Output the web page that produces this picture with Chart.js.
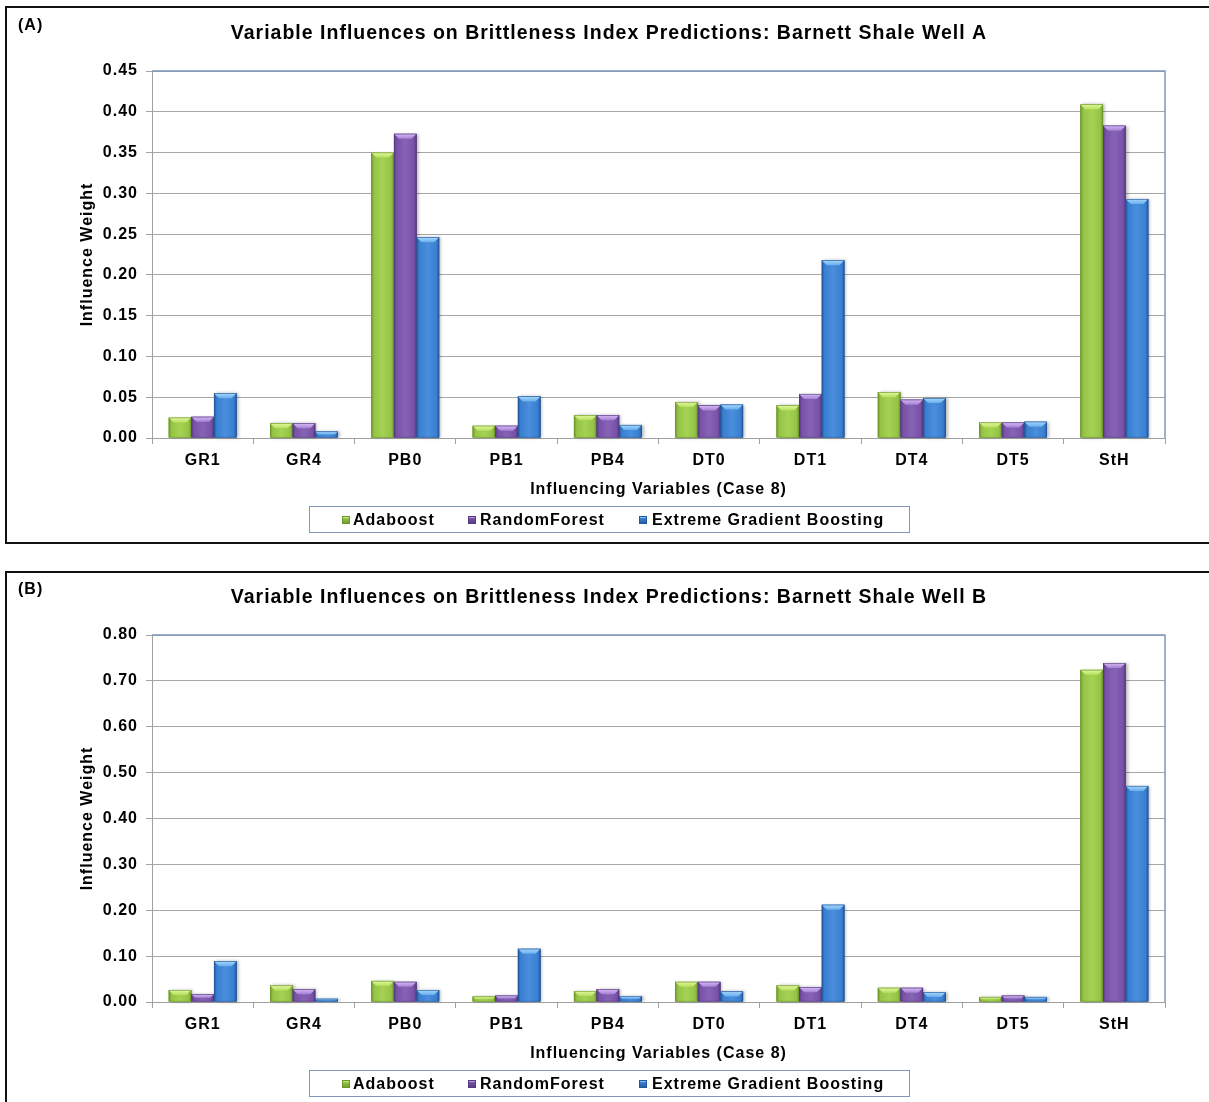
<!DOCTYPE html>
<html>
<head>
<meta charset="utf-8">
<script src="https://cdn.jsdelivr.net/npm/chart.js@4.4.1/dist/chart.umd.min.js"></script>
<style>
  html, body { margin: 0; padding: 0; background: #fff; overflow: hidden; }
  body { width: 1209px; height: 1102px; position: relative; font-family: 'Liberation Sans', Arial, sans-serif; }
  canvas { position: absolute; left: 0; }
  .frame { position: absolute; left: 5px; width: 1220px; border: 2px solid #111; pointer-events: none; }
  .tag { position: absolute; left: 18px; font-weight: bold; font-size: 16px; line-height: 16px; letter-spacing: 1px; color: #000; }
  .legend { position: absolute; left: 309px; width: 599px; height: 25px; border: 1px solid #8196b8; background: #fff; }
  .legend .sw { position: absolute; width: 8px; height: 8px; top: 9px; }
  .legend .lb { position: absolute; top: 4px; font-weight: bold; font-size: 16px; line-height: 18px; letter-spacing: 1px; color: #000; white-space: nowrap; }
</style>
</head>
<body>
<canvas id="chartA" width="1209" height="545" style="top:0px"></canvas>
<canvas id="chartB" width="1209" height="545" style="top:564px"></canvas>
<div class="frame" style="top:6px;height:534px"></div>
<div class="frame" style="top:571px;height:600px"></div>
<div class="tag" style="top:17px">(A)</div>
<div class="tag" style="top:581px">(B)</div>
<div class="legend" id="legendA" style="top:506px"></div>
<div class="legend" id="legendB" style="top:1070px"></div>
<script>
// Variables on the x axis
const categories = ['GR1', 'GR4', 'PB0', 'PB1', 'PB4', 'DT0', 'DT1', 'DT4', 'DT5', 'StH'];
const seriesNames = ['Adaboost', 'RandomForest', 'Extreme Gradient Boosting'];

// Well A influence weights
const wellA_adaboost     = [0.025, 0.018, 0.350, 0.015, 0.028, 0.044, 0.040, 0.056, 0.019, 0.409];
const wellA_randomForest = [0.026, 0.018, 0.373, 0.015, 0.028, 0.040, 0.054, 0.047, 0.019, 0.383];
const wellA_xgboost      = [0.055, 0.008, 0.246, 0.051, 0.016, 0.041, 0.218, 0.049, 0.020, 0.293];

// Well B influence weights
const wellB_adaboost     = [0.026, 0.036, 0.046, 0.012, 0.024, 0.044, 0.036, 0.031, 0.011, 0.724];
const wellB_randomForest = [0.017, 0.028, 0.044, 0.014, 0.028, 0.044, 0.032, 0.031, 0.014, 0.739];
const wellB_xgboost      = [0.089, 0.007, 0.026, 0.116, 0.013, 0.023, 0.212, 0.021, 0.011, 0.471];

// Y-axis tick values
const ticksA = [0, 0.05, 0.10, 0.15, 0.20, 0.25, 0.30, 0.35, 0.40, 0.45];
const ticksB = [0, 0.10, 0.20, 0.30, 0.40, 0.50, 0.60, 0.70, 0.80];

const titleA = 'Variable Influences on Brittleness Index Predictions: Barnett Shale Well A';
const titleB = 'Variable Influences on Brittleness Index Predictions: Barnett Shale Well B';
const xTitle = 'Influencing Variables (Case 8)';
const yTitle = 'Influence Weight';

// Bevelled bar palettes
const palettes = [
  { edge: '#6c972b', mid: '#95c345', hi: '#a5d252', cap1: '#e2f7a2', cap2: '#b6df5c' },
  { edge: '#553a7e', mid: '#7752a8', hi: '#8763b6', cap1: '#d6bbf4', cap2: '#a680d6' },
  { edge: '#22579a', mid: '#3a7fd0', hi: '#4a8fdd', cap1: '#a8d8fc', cap2: '#68adee' }
];

Chart.defaults.font.family = "'Liberation Sans', Arial, sans-serif";
Chart.defaults.color = '#000';
Chart.defaults.animation = false;

const spacingPlugin = {
  id: 'spacing',
  beforeLayout(chart) { chart.ctx.letterSpacing = '1px'; },
  beforeDraw(chart) { chart.ctx.letterSpacing = '1px'; }
};

// Shades each bar (positions taken from the bar elements) with a bevel look
const bevelPlugin = {
  id: 'bevel',
  afterDatasetsDraw(chart) {
    const ctx = chart.ctx;
    chart.data.datasets.forEach((ds, i) => {
      const pal = palettes[i];
      chart.getDatasetMeta(i).data.forEach(bar => {
        const { x, y, base, width } = bar.getProps(['x', 'y', 'base', 'width'], true);
        const l = x - width / 2, r = x + width / 2, t = Math.min(y, base), b = Math.max(y, base);
        const h = b - t;
        if (h <= 0) return;
        ctx.save();
        ctx.shadowColor = 'rgba(0,0,0,0.28)';
        ctx.shadowBlur = 3;
        ctx.shadowOffsetX = 2;
        ctx.shadowOffsetY = 0;
        const g = ctx.createLinearGradient(l, 0, r, 0);
        g.addColorStop(0, pal.edge);
        g.addColorStop(0.12, pal.mid);
        g.addColorStop(0.5, pal.hi);
        g.addColorStop(0.88, pal.mid);
        g.addColorStop(1, pal.edge);
        ctx.fillStyle = g;
        ctx.fillRect(l, t, width, h);
        ctx.restore();
        const d = Math.min(5, h / 2);
        const cg = ctx.createLinearGradient(0, t, 0, t + d);
        cg.addColorStop(0, pal.cap1);
        cg.addColorStop(1, pal.cap2);
        ctx.beginPath();
        ctx.moveTo(l, t);
        ctx.lineTo(r, t);
        ctx.lineTo(r - d, t + d);
        ctx.lineTo(l + d, t + d);
        ctx.closePath();
        ctx.fillStyle = cg;
        ctx.fill();
        ctx.strokeStyle = pal.edge;
        ctx.lineWidth = 0.6;
        ctx.strokeRect(l + 0.3, t + 0.3, width - 0.6, h - 0.6);
      });
    });
  }
};

// Blue-grey top and right edge of the plot area
const plotEdgePlugin = {
  id: 'plotEdge',
  afterDraw(chart) {
    const { top, right, left, bottom } = chart.chartArea;
    const ctx = chart.ctx;
    ctx.save();
    ctx.strokeStyle = '#7f98bc';
    ctx.lineWidth = 1.5;
    ctx.beginPath();
    ctx.moveTo(left, top);
    ctx.lineTo(right, top);
    ctx.lineTo(right, bottom);
    ctx.stroke();
    ctx.restore();
  }
};

function makeLegend(id) {
  const el = document.getElementById(id);
  const swatchX = [32, 158, 329];
  const labelX = [43, 170, 342];
  seriesNames.forEach((name, i) => {
    const p = palettes[i];
    const sw = document.createElement('div');
    sw.className = 'sw';
    sw.style.left = swatchX[i] + 'px';
    sw.style.background = 'linear-gradient(to bottom,' + p.cap1 + ' 0%,' + p.cap2 + ' 30%,' + p.mid + ' 31%,' + p.edge + ' 100%)';
    sw.style.boxShadow = 'inset 0 0 0 1px ' + p.edge;
    el.appendChild(sw);
    const lb = document.createElement('div');
    lb.className = 'lb';
    lb.style.left = labelX[i] + 'px';
    lb.textContent = name;
    el.appendChild(lb);
  });
}

function makeChart(canvasId, title, a, rf, xg, tickValues) {
  const fontBold = { size: 16, weight: 'bold' };
  return new Chart(document.getElementById(canvasId), {
    type: 'bar',
    data: {
      labels: categories,
      datasets: [a, rf, xg].map((vals, i) => ({
        label: seriesNames[i],
        data: vals,
        backgroundColor: palettes[i].mid,
        borderWidth: 0,
        categoryPercentage: 0.67,
        barPercentage: 1.0
      }))
    },
    options: {
      responsive: false,
      devicePixelRatio: 1,
      layout: { padding: { top: 10, left: 53, right: 44, bottom: 45.4 } },
      plugins: {
        legend: { display: false },
        tooltip: { enabled: false },
        title: {
          display: true,
          text: title,
          color: '#000',
          font: { size: 19.5, weight: 'bold' },
          padding: { top: 12.3, bottom: 25.3 }
        }
      },
      scales: {
        x: {
          grid: { display: true, drawOnChartArea: false, drawTicks: true, tickLength: 6, color: '#a0a0a0', offset: true },
          border: { display: true, color: '#a0a0a0', width: 1 },
          ticks: { font: fontBold, color: '#000', padding: 7, autoSkip: false, maxRotation: 0 },
          title: { display: true, text: xTitle, font: fontBold, color: '#000', padding: 0 },
          afterFit(scale) { scale.height = 61.6; }
        },
        y: {
          min: tickValues[0],
          max: tickValues[tickValues.length - 1],
          afterBuildTicks(scale) { scale.ticks = tickValues.map(v => ({ value: v })); },
          grid: { color: '#a6a6a6', lineWidth: 1, drawTicks: true, tickLength: 6 },
          border: { display: true, color: '#a0a0a0', width: 1 },
          ticks: { font: fontBold, color: '#000', padding: 8, callback: v => Number(v).toFixed(2) },
          title: { display: true, text: yTitle, font: fontBold, color: '#000', padding: { top: 25, bottom: 0 } },
          afterFit(scale) { scale.width = 99; }
        }
      }
    },
    plugins: [spacingPlugin, bevelPlugin, plotEdgePlugin]
  });
}

makeChart('chartA', titleA, wellA_adaboost, wellA_randomForest, wellA_xgboost, ticksA);
makeChart('chartB', titleB, wellB_adaboost, wellB_randomForest, wellB_xgboost, ticksB);
makeLegend('legendA');
makeLegend('legendB');
</script>
</body>
</html>
